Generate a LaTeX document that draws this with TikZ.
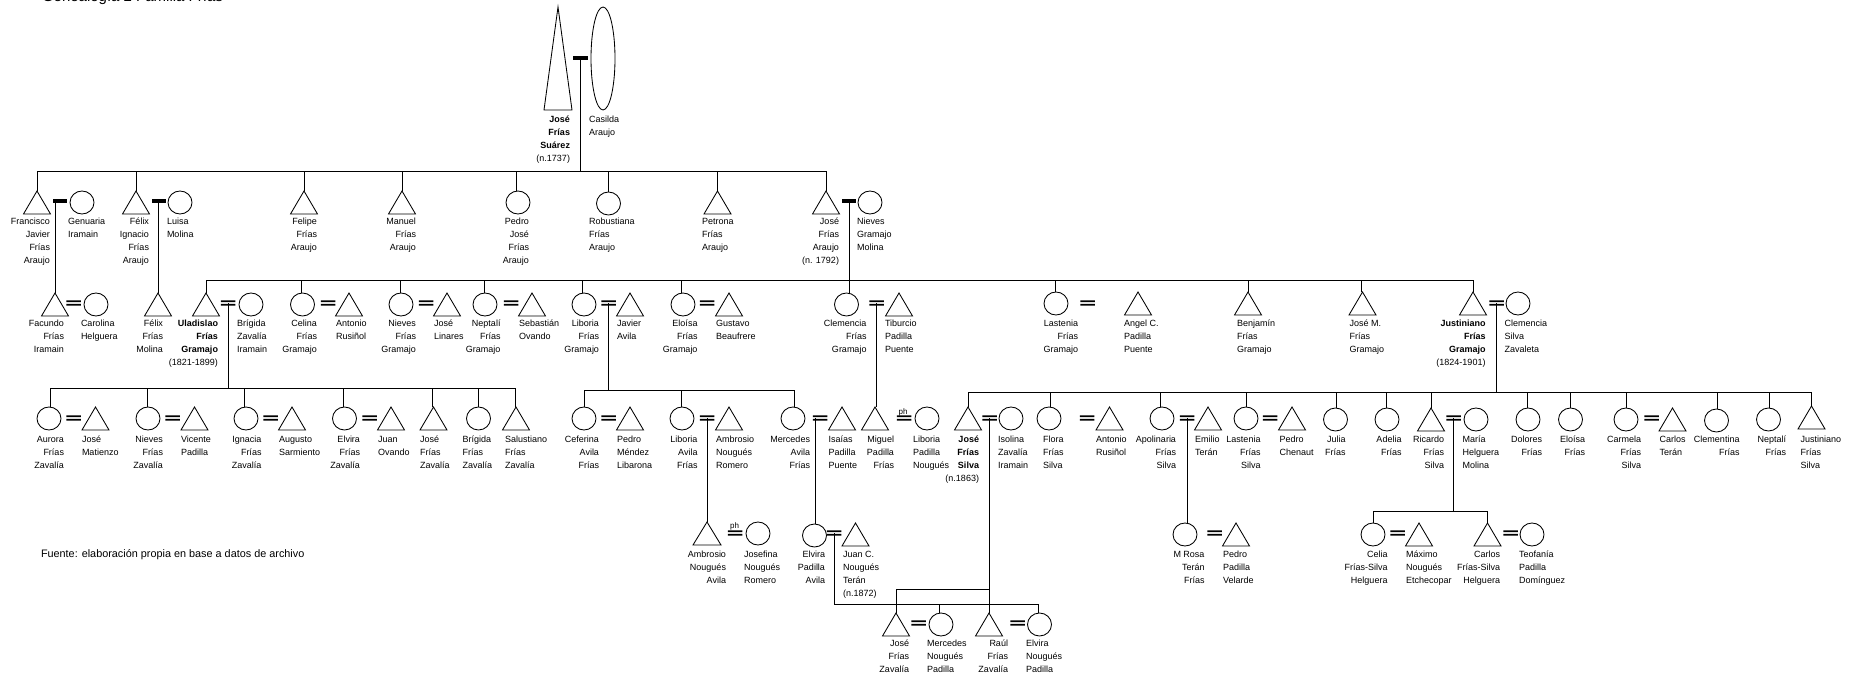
\documentclass[tikz,border=0pt]{standalone}
\usepackage{fontspec}
\setmainfont{Liberation Sans}
\usetikzlibrary{shapes.geometric,calc}
\newdimen\kxa \newdimen\kxb \newdimen\kxc \newdimen\kya \newdimen\kyb \newdimen\kyc
\makeatletter
\pgfdeclareshape{kintri}{
  \inheritsavedanchors[from=rectangle]
  \inheritanchorborder[from=rectangle]
  \inheritanchor[from=rectangle]{center}
  \inheritanchor[from=rectangle]{north}
  \inheritanchor[from=rectangle]{south}
  \inheritanchor[from=rectangle]{east}
  \inheritanchor[from=rectangle]{west}
  \backgroundpath{
    \southwest \kxa=\pgf@x \kya=\pgf@y
    \northeast \kxb=\pgf@x \kyb=\pgf@y
    \kxc=\kxa \advance\kxc by\kxb \divide\kxc by 2
    \pgfpathmoveto{\pgfqpoint{\kxa}{\kya}}
    \pgfpathlineto{\pgfqpoint{\kxb}{\kya}}
    \pgfpathlineto{\pgfqpoint{\kxc}{\kyb}}
    \pgfpathclose
  }
}
\pgfdeclareshape{kineq}{
  \inheritsavedanchors[from=rectangle]
  \inheritanchorborder[from=rectangle]
  \inheritanchor[from=rectangle]{center}
  \inheritanchor[from=rectangle]{north}
  \inheritanchor[from=rectangle]{south}
  \inheritanchor[from=rectangle]{east}
  \inheritanchor[from=rectangle]{west}
  \backgroundpath{
    \southwest \kxa=\pgf@x \kya=\pgf@y
    \northeast \kxb=\pgf@x \kyb=\pgf@y
    \kyc=\kya \advance\kyc by 1.8pt
    \pgfpathmoveto{\pgfqpoint{\kxa}{\kya}}
    \pgfpathlineto{\pgfqpoint{\kxb}{\kya}}
    \pgfpathlineto{\pgfqpoint{\kxb}{\kyc}}
    \pgfpathlineto{\pgfqpoint{\kxa}{\kyc}}
    \pgfpathclose
    \kyc=\kyb \advance\kyc by -1.8pt
    \pgfpathmoveto{\pgfqpoint{\kxa}{\kyc}}
    \pgfpathlineto{\pgfqpoint{\kxb}{\kyc}}
    \pgfpathlineto{\pgfqpoint{\kxb}{\kyb}}
    \pgfpathlineto{\pgfqpoint{\kxa}{\kyb}}
    \pgfpathclose
  }
}
\makeatother
\newcount\labc
\tikzset{
  kt/.style={shape=kintri,draw=black,line width=0.85pt,minimum width=27pt,minimum height=23pt,inner sep=0pt,outer sep=0pt},
  kc/.style={shape=ellipse,draw=black,line width=0.85pt,minimum width=24pt,minimum height=23pt,inner sep=0pt,outer sep=0pt},
  eqb/.style={shape=kineq,fill=black,minimum width=14.5pt,minimum height=5.2pt,inner sep=0pt,outer sep=0pt},
  barb/.style={shape=rectangle,fill=black,minimum width=14.5pt,minimum height=4pt,inner sep=0pt,outer sep=0pt},
  ln/.style={line width=0.75pt,draw=black},
  hl/.style={line width=0.9pt,draw=black},
  txt/.style={inner sep=0pt,outer sep=0pt,font=\fontsize{9}{13}\selectfont},
  lr/.style={txt,align=right,anchor=north east},
  ll/.style={txt,align=left,anchor=north west},
  phl/.style={inner sep=0pt,outer sep=0pt,anchor=base,font=\fontsize{8}{9}\selectfont},
  capt/.style={inner sep=0pt,outer sep=0pt,anchor=base west,font=\fontsize{10.85}{12}\selectfont}
}
% shapes: name, x, top y
\newcommand\tri[4][]{\node[kt,anchor=north,#1] (#2) at (#3,#4) {};}
\newcommand\cir[4][]{\node[kc,anchor=north,#1] (#2) at (#3,#4) {};}
\newcommand\eqq[3]{\node[eqb] (#1) at (#2,#3) {};}
\newcommand\brr[3]{\node[barb] (#1) at (#2,#3) {};}
% labels: right edge / left edge, baseline of first line
\newcommand\tagR[4][]{\global\advance\labc by 1 \node[lr,#1] (lab\the\labc) at (#2,#3-7.5) {\rule{0pt}{8pt}#4};}
\newcommand\tagL[4][]{\global\advance\labc by 1 \node[ll,#1] (lab\the\labc) at (#2,#3-7.5) {\rule{0pt}{8pt}#4};}
% drop from a horizontal line to a child's top
\newcommand\drop[3][0]{\draw[ln] ([xshift=#1pt]#3.north) -- ([xshift=#1pt]#3.north |- #2);}
\begin{document}
\begin{tikzpicture}[x=1pt,y=-1pt]
\useasboundingbox (0,0) rectangle (1858,677);
\node[capt,font=\fontsize{15}{16}\selectfont] (caption) at (42,1.5) {Genealogía 2 Familia Frías};
\node[capt] (source) at (41,557) {Fuente: elaboración propia en base a datos de archivo};

% generation 0
\tri[minimum width=28pt,minimum height=103pt]{g0a}{558}{7}
\node[kc,anchor=north,minimum width=24pt,minimum height=103pt] (g0b) at (603,7) {};
\brr{b0}{580.5}{58}
\tagR[font=\fontsize{9}{13}\selectfont\bfseries]{570}{122}{José\\Frías\\Suárez\\\mdseries (n.1737)}
\tagL{589}{122}{Casilda\\Araujo}
\coordinate (h1L) at (37,171);
\coordinate (h1R) at (826,171);
\draw[hl] (h1L) -- (h1R);
\draw[ln] (b0.center) -- (b0.center |- h1L);

% generation 1
\tri{fr}{37}{191}
\brr{bfr}{60}{201}
\cir{ge}{82}{191}
\tri{fe}{136}{191}
\brr{bfe}{159}{201}
\cir{lu}{180}{191}
\tri{felipe}{304}{191}
\tri{manuel}{402}{191}
\cir{pedroj}{518}{191}
\cir{robust}{608.5}{192}
\tri{petrona}{717.5}{191}
\tri{josea}{826}{191}
\brr{bjo}{849}{201}
\cir{nieg}{870}{191}
\drop{h1L}{fr}
\drop{h1L}{fe}
\drop{h1L}{felipe}
\drop{h1L}{manuel}
\drop[-1.5]{h1L}{pedroj}
\drop{h1L}{robust}
\drop{h1L}{petrona}
\drop{h1L}{josea}
\tagR{50}{224}{Francisco\\Javier\\Frías\\Araujo}
\tagL{68}{224}{Genuaria\\Iramain}
\tagR{149}{224}{Félix\\Ignacio\\Frías\\Araujo}
\tagL{167}{224}{Luisa\\Molina}
\tagR{317}{224}{Felipe\\Frías\\Araujo}
\tagR{416}{224}{Manuel\\Frías\\Araujo}
\tagR{529}{224}{Pedro\\José\\Frías\\Araujo}
\tagL{589}{224}{Robustiana\\Frías\\Araujo}
\tagL{702}{224}{Petrona\\Frías\\Araujo}
\tagR{839}{224}{José\\Frías\\Araujo\\(n. 1792)}
\tagL{857}{224}{Nieves\\Gramajo\\Molina}

% generation 2
\coordinate (h2L) at (206,280);
\coordinate (h2R) at (1473,280);
\draw[hl] (h2L) -- (h2R);
\tri{fac}{55}{293}
\eqq{efac}{73.5}{303}
\cir{car}{96}{293}
\tri{felm}{158}{293}
\draw[ln] (fac.north) -- (fac.north |- bfr);
\draw[ln] (felm.north) -- (felm.north |- bfe);
\tri{ula}{206}{293}
\eqq{eula}{228}{303}
\cir{bri}{251}{293}
\cir{cel}{302.5}{293}
\eqq{ecel}{328}{303}
\tri{ant}{349}{293}
\cir{nie}{401}{293}
\eqq{enie}{426}{303}
\tri{jli}{447}{293}
\cir{nep}{485}{293}
\eqq{enep}{511}{303}
\tri{seb}{532}{293}
\cir{lib}{584}{293}
\eqq{elib}{608.5}{303}
\tri{jav}{630}{293}
\cir{elo}{683}{293}
\eqq{eelo}{707}{303}
\tri{gus}{729}{293}
\cir{cle}{846.5}{293}
\eqq{ecle}{876.5}{303}
\tri{tib}{899}{293}
\cir{las}{1056}{292}
\eqq{elas}{1087.5}{303}
\tri{ang}{1138}{292}
\tri{ben}{1248}{292}
\tri{jom}{1362.5}{292}
\tri{jus}{1473}{292}
\eqq{ejus}{1496.5}{303}
\cir{clz}{1518}{292}
\draw[ln] (bjo.center) -- (bjo.center |- cle.north);
\drop{h2L}{ula}
\drop[-1.5]{h2L}{cel}
\drop[-1]{h2L}{nie}
\drop[-1]{h2L}{nep}
\drop[-1.5]{h2L}{lib}
\drop[-1.5]{h2L}{elo}
\drop[-1]{h2L}{las}
\drop{h2L}{ben}
\drop[-1]{h2L}{jom}
\drop{h2L}{jus}
\tagR{64}{326}{Facundo\\Frías\\Iramain}
\tagL{81}{326}{Carolina\\Helguera}
\tagR{163}{326}{Félix\\Frías\\Molina}
\tagR[font=\fontsize{9}{13}\selectfont\bfseries]{218}{326}{Uladislao\\Frías\\Gramajo\\\mdseries (1821-1899)}
\tagL{237}{326}{Brígida\\Zavalía\\Iramain}
\tagR{317}{326}{Celina\\Frías\\Gramajo}
\tagL{336}{326}{Antonio\\Rusiñol}
\tagR{416}{326}{Nieves\\Frías\\Gramajo}
\tagL{434}{326}{José\\Linares}
\tagR{500.5}{326}{Neptalí\\Frías\\Gramajo}
\tagL{519}{326}{Sebastián\\Ovando}
\tagR{599}{326}{Liboria\\Frías\\Gramajo}
\tagL{617}{326}{Javier\\Avila}
\tagR{697.5}{326}{Eloísa\\Frías\\Gramajo}
\tagL{716}{326}{Gustavo\\Beaufrere}
\tagR{866.5}{326}{Clemencia\\Frías\\Gramajo}
\tagL{885}{326}{Tiburcio\\Padilla\\Puente}
\tagR{1078}{326}{Lastenia\\Frías\\Gramajo}
\tagL{1124}{326}{Angel C.\\Padilla\\Puente}
\tagL{1237}{326}{Benjamín\\Frías\\Gramajo}
\tagL{1349.5}{326}{José M.\\Frías\\Gramajo}
\tagR[font=\fontsize{9}{13}\selectfont\bfseries]{1485.5}{326}{Justiniano\\Frías\\Gramajo\\\mdseries (1824-1901)}
\tagL{1504.5}{326}{Clemencia\\Silva\\Zavaleta}

% generation 3, Uladislao
\coordinate (h3aL) at (50,388);
\coordinate (h3aR) at (516,388);
\draw[hl] (h3aL) -- (h3aR);
\draw[ln] (eula.center) -- (eula.center |- h3aL);
\cir{aur}{49}{407}
\eqq{eaur}{73.5}{418}
\tri{jma}{95.5}{407}
\cir{nz}{148}{407}
\eqq{enz}{172.5}{418}
\tri{vic}{194.5}{407}
\cir{ign}{246}{407}
\eqq{eign}{270.5}{418}
\tri{aug}{292}{407}
\cir{elv}{344.5}{407}
\eqq{eelv}{369.5}{418}
\tri{jov}{391}{407}
\tri{jz}{433.5}{407}
\cir{brz}{478.5}{407}
\tri{sal}{516}{407}
\drop[1]{h3aL}{aur}
\drop[-1]{h3aL}{nz}
\drop[-2]{h3aL}{ign}
\drop[-1.5]{h3aL}{elv}
\drop[-1.5]{h3aL}{jz}
\drop[-0.5]{h3aL}{brz}
\drop[-1]{h3aL}{sal}
\tagR{64}{442}{Aurora\\Frías\\Zavalía}
\tagL{82}{442}{José\\Matienzo}
\tagR{163}{442}{Nieves\\Frías\\Zavalía}
\tagL{181}{442}{Vicente\\Padilla}
\tagR{261.5}{442}{Ignacia\\Frías\\Zavalía}
\tagL{279}{442}{Augusto\\Sarmiento}
\tagR{360}{442}{Elvira\\Frías\\Zavalía}
\tagL{378}{442}{Juan\\Ovando}
\tagL{420}{442}{José\\Frías\\Zavalía}
\tagL{462.5}{442}{Brígida\\Frías\\Zavalía}
\tagL{505}{442}{Salustiano\\Frías\\Zavalía}

% generation 3, Liboria
\coordinate (h3bL) at (584,390);
\coordinate (h3bR) at (794,390);
\draw[hl] (h3bL) -- (h3bR);
\draw[ln] (elib.center) -- (elib.center |- h3bL);
\cir{cef}{584}{407}
\eqq{ecef}{608.5}{418}
\tri{pme}{630}{407}
\cir{liba}{682}{407}
\eqq{eliba}{707}{418}
\tri{amb}{729}{407}
\cir{mer}{793}{407}
\eqq{emer}{820}{418}
\tri{isa}{842}{407}
\drop{h3bL}{cef}
\drop[-1]{h3bL}{liba}
\drop[1]{h3bL}{mer}
\tagR{599}{442}{Ceferina\\Avila\\Frías}
\tagL{617}{442}{Pedro\\Méndez\\Libarona}
\tagR{697.5}{442}{Liboria\\Avila\\Frías}
\tagL{716}{442}{Ambrosio\\Nougués\\Romero}
\tagR{810}{442}{Mercedes\\Avila\\Frías}
\tagL{828.5}{442}{Isaías\\Padilla\\Puente}

% Miguel
\tri{mig}{875}{407}
\eqq{emig}{904}{418}
\cir{lpn}{927}{407}
\node[phl] (ph1) at (903,414) {ph};
\draw[ln] (ecle.center) -- (ecle.center |- mig.north);
\tagR{894}{442}{Miguel\\Padilla\\Frías}
\tagL{913}{442}{Liboria\\Padilla\\Nougués}

% generation 3, Justiniano
\coordinate (h3cL) at (968,392);
\coordinate (h3cR) at (1812,392);
\draw[hl] (h3cL) -- (h3cR);
\draw[ln] (ejus.center) -- (ejus.center |- h3cL);
\tri{jfs}{968}{407}
\eqq{ejfs}{989.5}{418}
\cir{iso}{1011}{407}
\cir{flo}{1049}{407}
\eqq{eflo}{1087}{418}
\tri{aru}{1109.5}{407}
\cir{apo}{1162}{407}
\eqq{eapo}{1187}{418}
\tri{emi}{1208}{407}
\cir{lfs}{1246}{407}
\eqq{elfs}{1270}{418}
\tri{pch}{1292}{407}
\cir{jul}{1335.5}{408}
\cir{ade}{1387}{408}
\tri{ric}{1431}{408}
\eqq{eric}{1453.5}{418}
\cir{mar}{1476}{408}
\cir{dol}{1528}{408}
\cir{elf}{1570.5}{408}
\cir{cam}{1626}{408}
\eqq{ecam}{1651.5}{418}
\tri{cte}{1672.5}{408}
\cir{clm}{1716.5}{409}
\cir{nef}{1768.5}{408}
\tri{jsl}{1811.5}{406}
\drop{h3cL}{jfs}
\drop[1]{h3cL}{flo}
\drop[-2]{h3cL}{apo}
\drop[0.5]{h3cL}{lfs}
\drop[0.5]{h3cL}{jul}
\drop[-1]{h3cL}{ade}
\drop{h3cL}{ric}
\drop[-1]{h3cL}{dol}
\drop{h3cL}{elf}
\drop{h3cL}{cam}
\drop[1]{h3cL}{clm}
\drop[1]{h3cL}{nef}
\drop{h3cL}{jsl}
\tagR[font=\fontsize{9}{13}\selectfont\bfseries]{979}{442}{José\\Frías\\Silva\\\mdseries (n.1863)}
\tagL{998}{442}{Isolina\\Zavalía\\Iramain}
\tagL{1043}{442}{Flora\\Frías\\Silva}
\tagL{1096}{442}{Antonio\\Rusiñol}
\tagR{1176}{442}{Apolinaria\\Frías\\Silva}
\tagL{1195}{442}{Emilio\\Terán}
\tagR{1260.5}{442}{Lastenia\\Frías\\Silva}
\tagL{1279.5}{442}{Pedro\\Chenaut}
\tagR{1345.5}{442}{Julia\\Frías}
\tagR{1401.5}{442}{Adelia\\Frías}
\tagR{1444}{442}{Ricardo\\Frías\\Silva}
\tagL{1462.5}{442}{María\\Helguera\\Molina}
\tagR{1542}{442}{Dolores\\Frías}
\tagR{1585}{442}{Eloísa\\Frías}
\tagR{1641}{442}{Carmela\\Frías\\Silva}
\tagL{1659.5}{442}{Carlos\\Terán}
\tagR{1739.5}{442}{Clementina\\Frías}
\tagR{1786}{442}{Neptalí\\Frías}
\tagL{1800.5}{442}{Justiniano\\Frías\\Silva}

% generation 4
\tri[minimum width=28pt]{anu}{707}{522}
\eqq{eanu}{735}{533}
\cir{jos}{758}{522}
\node[phl] (ph2) at (734.5,528.5) {ph};
\draw[ln] (eliba.center) -- (eliba.center |- anu.north);
\tagR{726}{557}{Ambrosio\\Nougués\\Avila}
\tagL{744}{557}{Josefina\\Nougués\\Romero}

\cir{epa}{814.5}{524}
\eqq{eepa}{834}{533}
\tri{jcn}{855.5}{523}
\draw[ln] ([xshift=1pt]epa.north) -- ([xshift=1pt]epa.north |- emer.center);
\tagR{825}{557}{Elvira\\Padilla\\Avila}
\tagL{843}{557}{Juan C.\\Nougués\\Terán\\(n.1872)}

\cir{mro}{1185}{523}
\eqq{emro}{1214.5}{533}
\tri{ppv}{1236}{523}
\draw[ln] (eapo.center) -- (eapo.center |- mro.north);
\tagR{1204.5}{557}{M Rosa\\Terán\\Frías}
\tagL{1223}{557}{Pedro\\Padilla\\Velarde}

\coordinate (h4L) at (1373,511);
\coordinate (h4R) at (1487.5,511);
\draw[hl] (h4L) -- (h4R);
\draw[ln] (eric.center) -- (eric.center |- h4L);
\cir{cfh}{1373}{523}
\eqq{ecfh}{1397.5}{533}
\tri{mne}{1419}{523}
\tri{cfs}{1487.5}{523}
\eqq{ecfs}{1510.5}{533}
\cir{tpd}{1532}{523}
\drop{h4L}{cfh}
\drop{h4L}{cfs}
\tagR{1387.5}{557}{Celia\\Frías-Silva\\Helguera}
\tagL{1406}{557}{Máximo\\Nougués\\Etchecopar}
\tagR{1500}{557}{Carlos\\Frías-Silva\\Helguera}
\tagL{1519}{557}{Teofanía\\Padilla\\Domínguez}

% generation 5
\tri{jfz}{896}{613}
\eqq{ejfz}{918.5}{623}
\cir{mnp}{941}{613}
\tri{rfz}{989}{613}
\eqq{erfz}{1017.5}{623}
\cir{enp}{1039.5}{613}
\coordinate (h5L) at (896,589);
\draw[hl] (h5L) -- (h5L -| ejfs.center);
\draw[ln] (ejfs.center) -- (ejfs.center |- rfz.north);
\drop{h5L}{jfz}
\coordinate (h6R) at (1038,604);
\draw[hl] (eepa.center) |- (h6R);
\drop[-1.5]{h6R}{mnp}
\drop[-1.5]{h6R}{enp}
\tagR{909}{646}{José\\Frías\\Zavalía}
\tagL{927}{646}{Mercedes\\Nougués\\Padilla}
\tagR{1008}{646}{Raúl\\Frías\\Zavalía}
\tagL{1026}{646}{Elvira\\Nougués\\Padilla}
\end{tikzpicture}
\end{document}
